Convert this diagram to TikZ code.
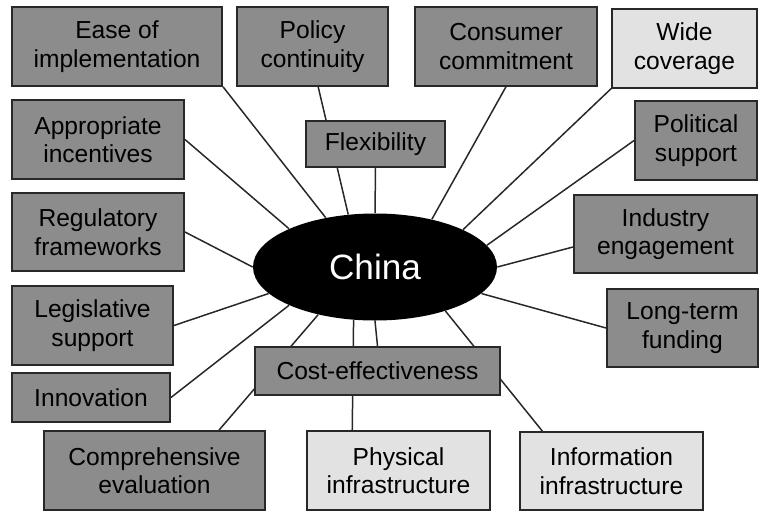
\documentclass[tikz,border=0pt]{standalone}
\usepackage{fontspec}
\setmainfont{Liberation Sans}
\usetikzlibrary{shapes.geometric,backgrounds}
\definecolor{factorgray}{RGB}{140,140,140}
\definecolor{factorlight}{RGB}{226,226,226}
\definecolor{edgedark}{RGB}{40,40,40}
\begin{document}
\begin{tikzpicture}[
    font=\fontsize{14}{16.2}\selectfont,
    factor box/.style={
        draw=edgedark, fill=factorgray, line width=1.1pt,
        minimum height=1.57cm, align=center, inner sep=0pt
    },
    light box/.style={factor box, fill=factorlight},
    hub/.style={
        ellipse, fill=black, text=white, inner sep=0pt,
        minimum width=4.88cm, minimum height=2.14cm,
        font=\fontsize{20}{23}\selectfont
    },
    link/.style={draw=edgedark, line width=0.85pt}
]
    \useasboundingbox (0,0) rectangle (15.18,-10.24);

    \node[hub] (china) at (7.50,-5.34) {China};

    % top row
    \node[factor box, minimum width=4.20cm] (ease) at (2.34,-0.93)
        {Ease of\\implementation};
    \node[factor box, minimum width=3.02cm] (policy) at (6.25,-0.93)
        {Policy\\continuity};
    \node[factor box, minimum width=3.64cm] (consumer) at (10.12,-0.93)
        {Consumer\\commitment};
    \node[light box, minimum width=2.90cm] (wide) at (13.69,-0.97)
        {Wide\\coverage};

    % left side
    \node[factor box, minimum width=3.44cm] (incent) at (1.96,-2.79)
        {Appropriate\\incentives};
    \node[factor box, minimum width=3.44cm, minimum height=1.56cm] (regul)
        at (1.96,-4.64) {Regulatory\\frameworks};
    \node[factor box, minimum width=3.22cm] (legis) at (1.85,-6.51)
        {Legislative\\support};
    \node[factor box, minimum width=3.16cm, minimum height=0.98cm] (innov)
        at (1.82,-7.95) {Innovation};

    % right side
    \node[factor box, minimum width=2.44cm] (political) at (13.92,-2.81)
        {Political\\support};
    \node[factor box, minimum width=3.66cm, minimum height=1.56cm] (industry)
        at (13.31,-4.68) {Industry\\engagement};
    \node[factor box, minimum width=3.02cm, minimum height=1.56cm] (funding)
        at (13.65,-6.56) {Long-term\\funding};

    % inner boxes
    \node[factor box, minimum width=2.78cm, minimum height=0.92cm] (flex)
        at (7.51,-2.88) {Flexibility};
    \node[factor box, minimum width=4.90cm, minimum height=0.96cm] (cost)
        at (7.55,-7.42) {Cost-effectiveness};

    % bottom row
    \node[factor box, minimum width=4.42cm] (compre) at (3.09,-9.41)
        {Comprehensive\\evaluation};
    \node[light box, minimum width=3.66cm] (physical) at (7.97,-9.41)
        {Physical\\infrastructure};
    \node[light box, minimum width=3.66cm, minimum height=1.56cm] (info)
        at (12.23,-9.42) {Information\\infrastructure};

    \begin{scope}[on background layer]
        \draw[link] (ease.south east) -- (china.135);
        \draw[link] (policy.-82) -- (china.117);
        \draw[link] (flex.south) -- (china.90);
        \draw[link] (consumer.south) -- (china.40);
        \draw[link] (wide.south west) -- (china.23);
        \draw[link] (political.west) -- (china.11);
        \draw[link] (industry.188) -- (china.0);
        \draw[link] (funding.west) -- (china.-14);
        \draw[link] (info.150) -- (china.-32);
        \draw[link] (cost.north) -- (china.-90);
        \draw[link] (physical.139) -- (china.-112);
        \draw[link] (compre.32) -- (china.220);
        \draw[link] (innov.east) -- (china.204);
        \draw[link] (legis.east) -- (china.194);
        \draw[link] (regul.east) -- (china.180);
        \draw[link] (incent.east) -- (china.156);
    \end{scope}

\end{tikzpicture}
\end{document}
